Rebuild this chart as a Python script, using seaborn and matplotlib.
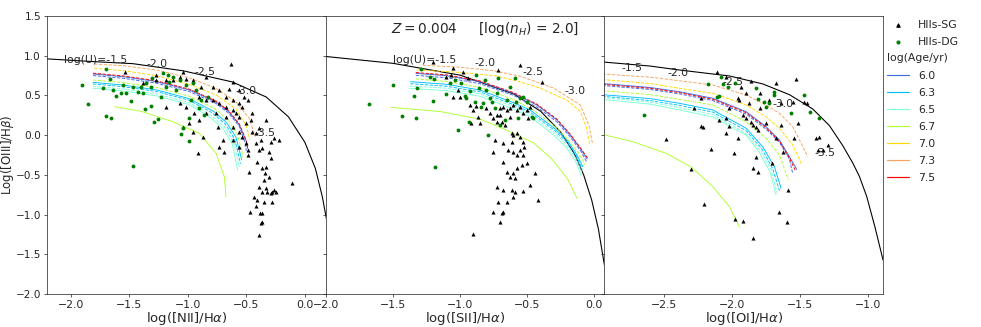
import matplotlib
matplotlib.use("Agg")
import matplotlib.pyplot as plt
from matplotlib.lines import Line2D
import seaborn as sns
import pandas as pd

# ---------------- legend / style data ----------------
AGES = ["6.0", "6.3", "6.5", "6.7", "7.0", "7.3", "7.5"]
AGE_COLORS = ["royalblue", "deepskyblue", "aquamarine", "greenyellow", "gold", "sandybrown", "red"]
PANEL_XLABELS = [r"log([NII]/H$\alpha$)", r"log([SII]/H$\alpha$)", r"log([OI]/H$\alpha$)"]
YLABEL = r"Log([OIII]/H$\beta$)"
TITLE_TEXT = r"$Z = 0.004$     [log($n_H$) = 2.0]"

# ---------------- panel 1: [NII]/Ha ----------------
nii_sg = [(-1.540,0.799),(-1.270,0.757),(-1.043,0.799),(-0.844,0.736),(-0.632,0.892),(-0.618,0.673),
          (-0.646,0.577),(-0.561,0.568),(-0.518,0.484),(-0.788,0.610),(-0.731,0.568),(-0.887,0.610),
          (-0.958,0.694),(-1.014,0.703),(-1.071,0.736),(-1.129,0.694),(-1.185,0.694),(-0.901,0.484),
          (-0.844,0.442),(-0.788,0.442),(-0.731,0.401),(-0.674,0.358),(-0.618,0.317),(-0.589,0.275),
          (-0.561,0.232),(-0.533,0.358),(-0.504,0.149),(-0.461,0.191),(-0.448,0.043),(-0.419,0.023),
          (-0.391,0.086),(-0.377,-0.061),(-0.334,0.191),(-0.419,-0.103),(-0.363,-0.166),(-0.405,-0.334),
          (-0.306,-0.208),(-0.263,-0.040),(-0.291,-0.292),(-0.334,-0.397),(-0.363,-0.418),(-0.340,-0.481),
          (-0.306,-0.523),(-0.348,-0.565),(-0.391,-0.649),(-0.334,-0.670),(-0.363,-0.712),(-0.320,-0.712),
          (-0.277,-0.712),(-0.249,-0.712),(-0.433,-0.775),(-0.405,-0.817),(-0.348,-0.838),(-0.419,-0.892),
          (-0.363,-0.984),(-0.380,-0.984),(-0.470,-0.971),(-0.391,-1.257),(-0.107,-0.606),(-0.363,-1.090),
          (-0.277,-0.838),(-0.476,-0.460),(-0.688,-0.208),(-0.916,-0.221),(-1.043,0.106),(-0.986,0.149),
          (-0.958,0.043),(-0.873,-0.020),(-0.745,0.106),(-0.674,0.232),(-0.618,0.106),(-0.561,0.043),
          (-0.533,-0.020),(-0.504,-0.103),(-0.490,-0.187),(-0.561,-0.145),(-0.618,-0.061),(-0.448,0.275),
          (-0.490,0.442),(-0.618,0.442),(-0.674,0.484),(-0.561,0.401),(-0.759,0.275),(-0.844,0.275),
          (-0.901,0.191),(-0.944,0.275),(-1.014,0.358),(-1.071,0.401),(-1.185,0.358),(-1.270,0.694),
          (-1.384,0.653),(-0.731,-0.145),(-0.703,-0.061),(-0.490,-0.250),(-0.391,-0.187),(-0.291,-0.082),
          (-0.220,-0.061),(-0.263,-0.691),(-0.291,-0.733),(-0.376,-1.102)]
nii_dg = [(-1.903,0.631),(-1.852,0.392),(-1.695,0.829),(-1.701,0.245),(-1.653,0.212),(-1.724,0.590),
          (-1.610,0.497),(-1.568,0.527),(-1.525,0.534),(-1.483,0.434),(-1.469,-0.385),(-1.469,0.602),
          (-1.426,0.547),(-1.384,0.527),(-1.363,0.325),(-1.318,0.367),(-1.293,0.169),(-1.256,0.199),
          (-1.227,0.484),(-1.304,0.716),(-1.214,0.779),(-1.185,0.602),(-1.157,0.673),(-1.129,0.736),
          (-1.100,0.568),(-1.057,0.011),(-1.043,0.086),(-0.986,0.212),(-0.992,-0.070),(-0.972,0.442),
          (-0.958,0.653),(-0.929,0.568),(-0.901,0.338),(-0.887,0.442),(-0.859,0.254),(-0.831,0.484),
          (-1.071,0.694),(-1.014,0.631),(-1.171,0.757),(-1.355,0.653),(-1.312,0.602),(-1.554,0.631),
          (-1.398,0.602),(-1.667,0.703),(-1.639,0.568)]
nii_max_x = [-2.2, -1.8, -1.47, -1.04, -0.62, -0.33, -0.14, 0.0, 0.09, 0.15, 0.19]
nii_max_y = [0.96, 0.925, 0.90, 0.81, 0.67, 0.48, 0.23, -0.09, -0.42, -0.78, -1.10]
nii_curve_age = ["6.5", "6.5", "6.3", "6.3", "6.7", "6.0", "6.0", "7.5", "7.0", "7.3", "6.7"]
nii_curve_ls = ["-", "--", "--", "-", "--", "--", "-", "--", "--", "--", "-"]
nii_curve_x = [[-1.81,-1.55,-1.27,-0.99,-0.81,-0.70,-0.62,-0.59,-0.575],
               [-1.81,-1.55,-1.27,-0.99,-0.80,-0.69,-0.61,-0.575,-0.56],
               [-1.81,-1.55,-1.27,-0.99,-0.79,-0.68,-0.60,-0.565,-0.55],
               [-1.81,-1.55,-1.27,-0.99,-0.78,-0.67,-0.59,-0.555,-0.54],
               [-1.81,-1.55,-1.27,-0.99,-0.77,-0.66,-0.575,-0.54,-0.53],
               [-1.81,-1.55,-1.27,-0.99,-0.76,-0.65,-0.56,-0.51,-0.50],
               [-1.81,-1.55,-1.27,-0.99,-0.76,-0.65,-0.56,-0.50,-0.49],
               [-1.81,-1.55,-1.27,-0.99,-0.76,-0.65,-0.56,-0.50,-0.49],
               [-1.80,-1.55,-1.27,-0.99,-0.76,-0.59,-0.50,-0.47],
               [-1.80,-1.55,-1.27,-0.99,-0.76,-0.59,-0.475,-0.424],
               [-1.625,-1.40,-1.128,-0.901,-0.759,-0.688,-0.674]]
nii_curve_y = [[0.59,0.555,0.495,0.385,0.225,0.085,-0.11,-0.33,-0.44],
               [0.615,0.58,0.52,0.41,0.25,0.11,-0.08,-0.30,-0.40],
               [0.645,0.61,0.55,0.44,0.28,0.14,-0.05,-0.26,-0.36],
               [0.665,0.63,0.57,0.46,0.30,0.16,-0.02,-0.22,-0.31],
               [0.694,0.66,0.60,0.49,0.335,0.195,0.01,-0.19,-0.28],
               [0.75,0.715,0.655,0.55,0.40,0.275,0.11,-0.10,-0.20],
               [0.77,0.735,0.675,0.57,0.42,0.295,0.13,-0.08,-0.17],
               [0.78,0.745,0.685,0.58,0.43,0.305,0.14,-0.07,-0.16],
               [0.842,0.812,0.749,0.641,0.507,0.33,0.12,-0.06],
               [0.896,0.874,0.82,0.723,0.59,0.421,0.211,-0.02],
               [0.358,0.30,0.169,0.023,-0.229,-0.523,-0.775]]
nii_u_text = ["log(U)=-1.5", "-2.0", "-2.5", "-3.0", "-3.5"]
nii_u_x = [-2.06, -1.355, -0.944, -0.595, -0.433]
nii_u_y = [0.94, 0.895, 0.80, 0.553, 0.023]

# ---------------- panel 2: [SII]/Ha ----------------
sii_sg = [(-1.204,0.920),(-1.054,0.842),(-0.554,0.883),(-0.717,0.820),(-0.392,0.665),(-1.103,0.736),
          (-1.066,0.757),(-0.979,0.799),(-0.942,0.716),(-1.016,0.568),(-1.004,0.484),(-1.054,0.484),
          (-0.929,0.380),(-0.904,0.317),(-0.879,0.371),(-0.867,0.232),(-0.854,0.149),(-0.916,0.149),
          (-0.804,0.338),(-0.779,0.275),(-0.754,0.212),(-0.729,0.254),(-0.704,0.338),(-0.679,0.358),
          (-0.654,0.317),(-0.629,0.338),(-0.604,0.380),(-0.579,0.317),(-0.554,0.358),(-0.530,0.275),
          (-0.504,0.317),(-0.492,0.212),(-0.479,0.358),(-0.704,0.254),(-0.729,0.169),(-0.691,0.169),
          (-0.666,0.128),(-0.629,0.232),(-0.616,0.023),(-0.604,0.002),(-0.579,0.023),(-0.554,-0.020),
          (-0.530,-0.082),(-0.616,-0.082),(-0.641,-0.187),(-0.604,-0.208),(-0.554,-0.187),(-0.530,-0.250),
          (-0.579,-0.250),(-0.504,-0.355),(-0.542,-0.376),(-0.579,-0.418),(-0.604,-0.481),(-0.629,-0.523),
          (-0.592,-0.543),(-0.654,-0.460),(-0.679,-0.334),(-0.754,-0.208),(-0.742,-0.061),(-0.679,-0.103),
          (-0.442,-0.481),(-0.729,-0.649),(-0.679,-0.691),(-0.616,-0.691),(-0.592,-0.712),(-0.530,-0.703),
          (-0.604,-0.775),(-0.654,-0.838),(-0.717,-0.838),(-0.754,-0.964),(-0.691,-0.984),(-0.679,-0.964),
          (-0.704,-1.090),(-0.417,-0.817),(-0.904,-1.249),(-0.522,-0.145),(-0.479,-0.627)]
sii_dg = [(-1.498,0.631),(-1.433,0.245),(-1.328,0.212),(-1.346,0.497),(-1.324,0.590),(-1.204,0.434),
          (-1.191,-0.397),(-1.291,0.833),(-1.228,0.736),(-1.198,0.707),(-1.103,0.514),(-1.079,0.653),
          (-1.041,0.694),(-1.016,0.065),(-0.991,0.653),(-0.966,0.497),(-0.953,0.464),(-0.933,0.169),
          (-0.929,0.556),(-0.891,0.421),(-0.882,0.757),(-0.857,0.590),(-0.844,0.358),(-0.831,0.401),
          (-0.817,0.694),(-0.804,0.568),(-0.792,0.002),(-0.779,0.464),(-0.766,0.421),(-0.741,0.338),
          (-0.728,0.527),(-0.716,0.716),(-0.703,0.128),(-0.667,0.191),(-0.654,0.442),(-0.629,0.610),
          (-0.592,0.723),(-0.582,0.421),(-0.566,0.212),(-0.554,0.464),(-0.530,0.484),(-0.504,0.421),
          (-0.467,0.232),(-0.454,0.212),(-1.678,0.392)]
sii_max_x = [-2.0, -1.5, -1.0, -0.6, -0.4, -0.25, -0.15, -0.08, -0.02, 0.03, 0.08]
sii_max_y = [0.99, 0.904, 0.755, 0.517, 0.30, 0.037, -0.232, -0.50, -0.818, -1.183, -1.69]
sii_curve_age = ["6.5", "6.5", "6.3", "6.3", "6.7", "6.0", "6.0", "7.5", "7.0", "7.3", "6.7"]
sii_curve_ls = ["-", "--", "--", "-", "--", "--", "-", "--", "--", "--", "-"]
sii_curve_x = [[-1.38,-1.10,-0.854,-0.604,-0.479,-0.31,-0.21,-0.14,-0.10],
               [-1.38,-1.10,-0.854,-0.604,-0.479,-0.305,-0.205,-0.135,-0.095],
               [-1.37,-1.10,-0.854,-0.604,-0.479,-0.30,-0.20,-0.13,-0.09],
               [-1.37,-1.10,-0.854,-0.604,-0.479,-0.30,-0.20,-0.13,-0.085],
               [-1.33,-1.10,-0.854,-0.604,-0.45,-0.30,-0.20,-0.12,-0.07],
               [-1.33,-1.10,-0.854,-0.604,-0.429,-0.279,-0.18,-0.10,-0.06],
               [-1.33,-1.10,-0.854,-0.604,-0.429,-0.279,-0.18,-0.10,-0.055],
               [-1.33,-1.10,-0.854,-0.604,-0.429,-0.279,-0.18,-0.10,-0.05],
               [-1.32,-1.00,-0.73,-0.55,-0.40,-0.205,-0.105,-0.06,-0.035],
               [-1.28,-1.00,-0.75,-0.55,-0.30,-0.105,-0.04,-0.015],
               [-1.515,-1.14,-0.85,-0.65,-0.45,-0.317,-0.20,-0.13]]
sii_curve_y = [[0.59,0.56,0.49,0.33,0.235,0.01,-0.15,-0.33,-0.50],
               [0.62,0.59,0.52,0.36,0.265,0.04,-0.12,-0.30,-0.46],
               [0.648,0.615,0.545,0.385,0.29,0.065,-0.095,-0.275,-0.43],
               [0.673,0.64,0.568,0.41,0.317,0.09,-0.07,-0.25,-0.40],
               [0.707,0.675,0.60,0.45,0.31,0.12,-0.05,-0.22,-0.37],
               [0.753,0.723,0.648,0.502,0.355,0.166,-0.023,-0.205,-0.33],
               [0.778,0.748,0.673,0.527,0.380,0.191,0.002,-0.18,-0.30],
               [0.788,0.758,0.683,0.537,0.390,0.201,0.012,-0.17,-0.29],
               [0.82,0.79,0.745,0.67,0.59,0.44,0.30,0.10,-0.12],
               [0.88,0.855,0.81,0.74,0.59,0.38,0.12,-0.10],
               [0.35,0.295,0.20,0.06,-0.10,-0.30,-0.55,-0.795]]
sii_u_text = ["log(U)=-1.5", "-2.0", "-2.5", "-3.0"]
sii_u_x = [-1.503, -0.891, -0.535, -0.225]
sii_u_y = [0.946, 0.904, 0.795, 0.550]

# ---------------- panel 3: [OI]/Ha ----------------
oi_sg = [(-2.110,0.799),(-2.041,0.736),(-1.858,0.686),(-1.674,0.653),(-1.528,0.703),(-1.467,0.421),
         (-1.450,0.409),(-1.931,0.610),(-1.894,0.527),(-1.796,0.527),(-1.723,0.442),(-1.956,0.464),
         (-1.944,0.442),(-1.870,0.401),(-1.796,0.338),(-1.638,0.401),(-1.553,0.421),(-1.516,0.149),
         (-1.638,0.128),(-2.225,0.464),(-2.017,0.338),(-2.090,0.191),(-2.213,0.106),(-2.041,0.212),
         (-1.919,0.254),(-1.894,0.212),(-1.858,0.169),(-1.846,0.128),(-1.821,0.106),(-1.809,0.065),
         (-1.748,0.149),(-2.017,0.115),(-2.041,0.023),(-1.956,-0.040),(-2.151,-0.178),(-1.980,-0.229),
         (-1.821,-0.271),(-1.674,-0.040),(-1.626,-0.208),(-1.846,-0.418),(-1.809,-0.460),(-1.589,-0.691),
         (-1.381,-0.040),(-1.357,-0.020),(-1.296,-0.124),(-1.332,-0.187),(-2.200,-0.867),(-1.973,-1.060),
         (-1.915,-1.077),(-1.650,-0.971),(-1.597,-1.097),(-1.846,-1.299),(-2.298,-0.426),(-2.481,-0.052),
         (-2.274,0.338),(-2.225,0.115),(-1.707,-0.347),(-1.540,-0.040),(-1.364,-0.187)]
oi_dg = [(-2.078,0.728),(-2.176,0.644),(-2.066,0.644),(-2.029,0.610),(-1.973,0.653),(-2.095,0.493),
         (-1.821,0.590),(-1.804,0.451),(-1.760,0.421),(-1.748,0.358),(-1.687,0.547),(-1.692,0.505),
         (-1.723,0.401),(-1.564,0.275),(-1.467,0.505),(-1.425,0.287),(-1.362,0.212),(-2.641,0.254),
         (-2.110,0.484)]
oi_max_x = [-2.94, -2.6, -2.384, -2.017, -1.773, -1.577, -1.406, -1.283, -1.186, -1.112, -1.063, -1.01, -0.95, -0.89]
oi_max_y = [0.92, 0.87, 0.82, 0.745, 0.645, 0.51, 0.33, 0.12, -0.13, -0.35, -0.52, -0.77, -1.15, -1.57]
oi_curve_age = ["6.5", "6.5", "6.3", "6.3", "6.7", "6.0", "6.0", "7.5", "7.0", "7.3", "6.7"]
oi_curve_ls = ["-", "--", "--", "-", "--", "--", "-", "--", "--", "--", "-"]
oi_curve_x = [[-2.95,-2.60,-2.384,-2.139,-1.894,-1.80,-1.72,-1.674],
              [-2.95,-2.60,-2.384,-2.139,-1.894,-1.79,-1.71,-1.667],
              [-2.95,-2.60,-2.384,-2.139,-1.894,-1.78,-1.70,-1.65],
              [-2.95,-2.60,-2.384,-2.139,-1.894,-1.773,-1.687,-1.638],
              [-2.95,-2.60,-2.384,-2.139,-1.894,-1.748,-1.650,-1.584],
              [-2.95,-2.60,-2.384,-2.139,-1.894,-1.748,-1.650,-1.577,-1.553],
              [-2.95,-2.60,-2.384,-2.139,-1.894,-1.748,-1.650,-1.577,-1.523],
              [-2.95,-2.60,-2.384,-2.139,-1.894,-1.748,-1.650,-1.577,-1.535],
              [-2.95,-2.60,-2.384,-2.139,-1.894,-1.748,-1.650,-1.552,-1.484],
              [-2.95,-2.60,-2.384,-2.139,-1.894,-1.748,-1.650,-1.552,-1.442],
              [-2.95,-2.726,-2.481,-2.298,-2.139,-2.017,-1.944]]
oi_curve_y = [[0.45,0.39,0.317,0.23,0.00,-0.21,-0.46,-0.754],
              [0.475,0.415,0.345,0.26,0.02,-0.19,-0.44,-0.73],
              [0.49,0.435,0.375,0.29,0.055,-0.17,-0.42,-0.70],
              [0.51,0.46,0.401,0.317,0.086,-0.145,-0.397,-0.669],
              [0.56,0.51,0.451,0.380,0.169,-0.040,-0.250,-0.565],
              [0.625,0.575,0.52,0.435,0.265,0.075,-0.09,-0.30,-0.48],
              [0.65,0.60,0.547,0.464,0.295,0.106,-0.061,-0.271,-0.430],
              [0.64,0.59,0.535,0.452,0.283,0.094,-0.075,-0.285,-0.44],
              [0.70,0.65,0.590,0.527,0.380,0.232,0.086,-0.124,-0.376],
              [0.77,0.73,0.685,0.631,0.505,0.380,0.275,0.106,-0.271],
              [0.01,-0.083,-0.229,-0.40,-0.649,-0.901,-1.153]]
oi_u_text = ["-1.5", "-2.0", "-2.5", "-3.0", "-3.5"]
oi_u_x = [-2.811, -2.472, -2.07, -1.70, -1.39]
oi_u_y = [0.842, 0.786, 0.665, 0.392, -0.225]

XLIMS = [(-2.2, 0.18), (-2.0, 0.075), (-2.934, -0.89)]
YLIM = (-2.0, 1.5)

# ---------------- drawing ----------------
sns.set_style("ticks")
plt.rcParams["font.family"] = ["DejaVu Sans"]
plt.rcParams["mathtext.fontset"] = "dejavusans"

fig, axes = plt.subplots(1, 3, figsize=(15, 5), dpi=65.4, sharey=True)
fig.subplots_adjust(left=0.0483, right=0.9001, bottom=0.1009, top=0.9511, wspace=0)
color_of = dict(zip(AGES, AGE_COLORS))

panels = [
    (nii_sg, nii_dg, nii_max_x, nii_max_y, nii_curve_age, nii_curve_ls, nii_curve_x, nii_curve_y,
     nii_u_text, nii_u_x, nii_u_y),
    (sii_sg, sii_dg, sii_max_x, sii_max_y, sii_curve_age, sii_curve_ls, sii_curve_x, sii_curve_y,
     sii_u_text, sii_u_x, sii_u_y),
    (oi_sg, oi_dg, oi_max_x, oi_max_y, oi_curve_age, oi_curve_ls, oi_curve_x, oi_curve_y,
     oi_u_text, oi_u_x, oi_u_y),
]

for i, (ax, p) in enumerate(zip(axes, panels)):
    sg, dg, mx, my, cage, cls, cx, cy, ut, ux, uy = p
    sns.lineplot(x=mx, y=my, sort=False, estimator=None, color="black", lw=1.2, ax=ax, legend=False)
    for age, ls, xs, ys in zip(cage, cls, cx, cy):
        sns.lineplot(x=xs, y=ys, sort=False, estimator=None, color=color_of[age],
                     linestyle=ls, lw=1.0, ax=ax, legend=False)
    sg_df = pd.DataFrame(sg, columns=["x", "y"])
    dg_df = pd.DataFrame(dg, columns=["x", "y"])
    sns.scatterplot(data=sg_df, x="x", y="y", marker="^", color="black", s=20, linewidth=0,
                    ax=ax, legend=False, zorder=3)
    sns.scatterplot(data=dg_df, x="x", y="y", marker="o", color="green", s=18, linewidth=0,
                    ax=ax, legend=False, zorder=3)
    for t, x, y in zip(ut, ux, uy):
        ax.text(x, y, t, fontsize=12, ha="left", va="center", zorder=4)
    ax.set_xlim(*XLIMS[i])
    ax.set_ylim(*YLIM)
    ax.set_xlabel(PANEL_XLABELS[i], fontsize=14.5, labelpad=0)
    ax.set_ylabel("")
    ax.tick_params(labelsize=12)

axes[0].tick_params(axis="y", labelsize=11.5)
axes[0].set_ylabel(YLABEL, fontsize=13)
axes[0].yaxis.set_label_coords(-0.112, 0.5)
axes[1].text(0.57, 0.955, TITLE_TEXT, transform=axes[1].transAxes, fontsize=15,
             ha="center", va="center")

h1 = [Line2D([], [], marker="^", color="black", ls="", ms=4),
      Line2D([], [], marker="o", color="green", ls="", ms=3.5)]
leg1 = axes[2].legend(h1, ["HIIs-SG", "HIIs-DG"], loc="upper left", bbox_to_anchor=(1.0, 1.0),
                      frameon=False, fontsize=12, borderaxespad=0, labelspacing=0.65)
axes[2].add_artist(leg1)
h2 = [Line2D([], [], color=c, lw=1.3) for c in AGE_COLORS]
axes[2].legend(h2, AGES, title="log(Age/yr)", loc="upper left", bbox_to_anchor=(1.0, 0.881),
               frameon=False, fontsize=12, title_fontsize=12, alignment="left", borderaxespad=0,
               labelspacing=0.65)

fig.savefig("out.png", dpi=65.4)
